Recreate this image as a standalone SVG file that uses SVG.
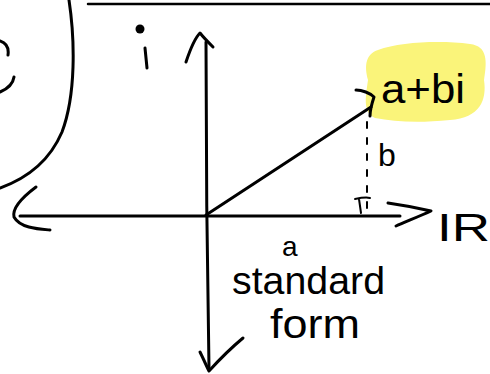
<svg xmlns="http://www.w3.org/2000/svg" width="490" height="374" viewBox="0 0 490 374">
<style>
.s{fill:none;stroke:#000;stroke-width:3;stroke-linecap:round;stroke-linejoin:round}
.t{font-family:"Liberation Sans","DejaVu Sans",sans-serif;fill:#000}
</style>
<rect width="490" height="374" fill="#fff"/>
<g id="decor">
<path class="s" d="M69,0 C75,40 76,95 62,132 C50,160 28,178 0,188"/>
<path class="s" d="M0,41 C6,43 9,48 8,55"/>
<path class="s" d="M14,77 C13,84 7,89 0,92"/>
<path class="s" d="M88,4 L490,4" style="stroke-width:2.5"/>
</g>
<g id="highlight">
<path d="M378,50 C400,42 440,40 470,44 C488,46 487,62 484,80 C487,100 480,118 450,120 C420,123 395,122 375,118 C362,112 366,95 368,80 C364,65 366,54 378,50 Z" fill="#faf47a"/>
</g>
<g id="connectors">
<path class="s" d="M206,42 C206,150 207,260 209,368"/>
<path class="s" d="M186,62 C190,50 195,38 200,33 C204,38 209,43 213,47"/>
<path class="s" d="M200,352 C203,358 206,365 209,371 C219,360 231,348 243,338"/>
<path class="s" d="M20,216 L400,216"/>
<path class="s" d="M36,187 C24,196 12,208 14,217 C20,228 38,229 50,230"/>
<path class="s" d="M388,203 C402,205 418,208 431,211 C420,216 405,222 396,226"/>
<path class="s" d="M206,215 L371,107"/>
<path class="s" d="M356,90 C362,90 370,93 374,97 C372,103 370,110 370,116"/>
<path class="s" d="M367,122 L367,214" style="stroke-width:2;stroke-dasharray:6 10"/>
<path class="s" d="M355,199 C360,198 366,197 370,198 M359,199 L361,213" style="stroke-width:2"/>
</g>
<g id="labels">
<circle cx="140" cy="29" r="4.5"/>
<path class="s" d="M145,48 L147,68"/>
<text class="t" x="381" y="103" font-size="40" textLength="84" lengthAdjust="spacingAndGlyphs">a+bi</text>
<text class="t" x="378" y="166" font-size="32">b</text>
<text class="t" x="437" y="241" font-size="38" textLength="53" lengthAdjust="spacingAndGlyphs">IR</text>
<text class="t" x="282" y="256" font-size="28">a</text>
<text class="t" x="232" y="294" font-size="38" textLength="153" lengthAdjust="spacingAndGlyphs">standard</text>
<text class="t" x="270" y="338" font-size="40" textLength="90" lengthAdjust="spacingAndGlyphs">form</text>
</g>
</svg>
